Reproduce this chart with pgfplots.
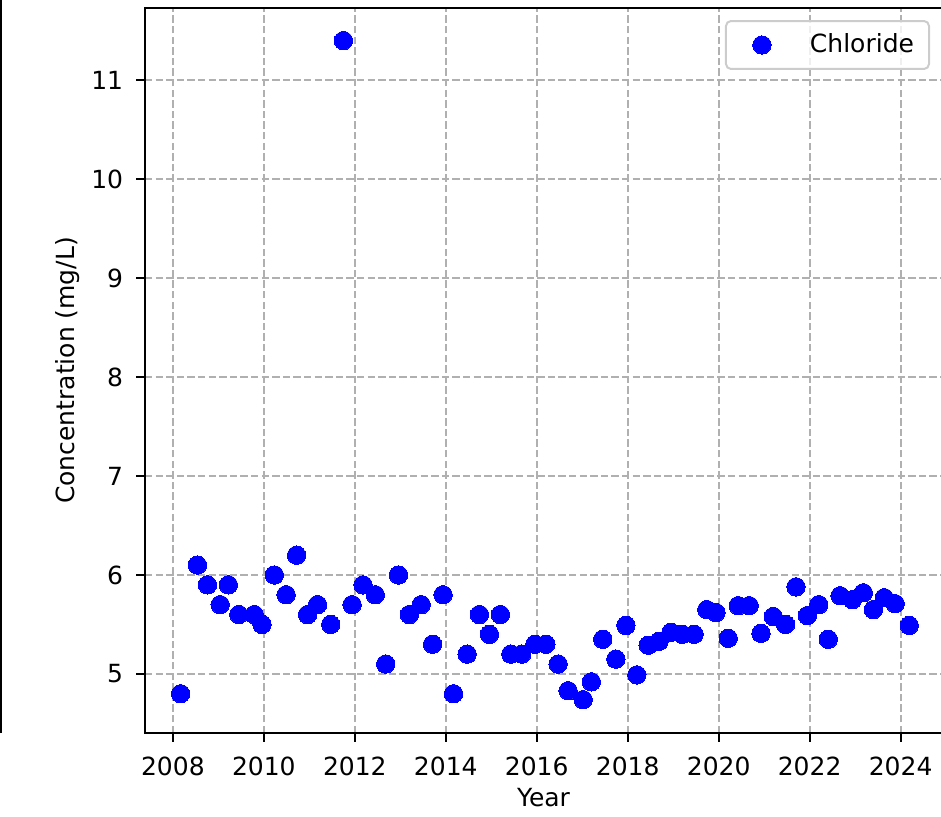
\documentclass[border=0pt]{standalone}
\usepackage{fontspec}
\setmainfont{DejaVu Sans}
\usepackage{pgfplots}
\pgfplotsset{compat=1.18}
\definecolor{gridgray}{RGB}{176,176,176}
\begin{document}
\begin{tikzpicture}
\useasboundingbox (-72.5pt,-41.5pt) rectangle (398pt,366.5pt);
% stray frame edge on the far left
\draw[line width=1pt] (-72pt,0pt) -- (-72pt,370pt);
\begin{axis}[
  at={(0,0)}, anchor=south west, scale only axis,
  width=398.5pt, height=362.5pt,
  xmin=2007.387, xmax=2024.91, ymin=4.403, ymax=11.729,
  xtick={2008,2010,...,2024}, ytick={5,6,...,11},
  /pgf/number format/assume math mode=true,
  xticklabel style={/pgf/number format/1000 sep={}, yshift=-4pt},
  yticklabel style={xshift=-3pt},
  tick label style={font=\fontsize{12.5}{15}\selectfont},
  grid=major,
  grid style={color=gridgray, line width=1pt, dash pattern=on 3.7pt off 1.6pt},
  axis line style={line width=1pt},
  tick style={black, line width=1pt},
  tick align=outside, major tick length=4.4pt,
  tick pos=left,
  xlabel={Year}, ylabel={Concentration (mg/L)},
  every axis x label/.style={at={(axis description cs:0.5,0)}, anchor=center, yshift=-32.5pt,
    font=\fontsize{12.5}{15}\selectfont},
  every axis y label/.style={at={(axis description cs:-0.0966,0.5)}, anchor=center, rotate=90,
    font=\fontsize{12.5}{15}\selectfont},
  legend style={at={(axis description cs:1,1)}, anchor=north east, xshift=-6pt, yshift=-6pt,
    draw=black!20, line width=1pt, rounded corners=2.5pt, fill=white, fill opacity=0.8, text opacity=1,
    font=\fontsize{12.5}{15}\selectfont, inner xsep=5.5pt, inner ysep=4.5pt,
    /tikz/every odd column/.append style={column sep=8.5pt}},
  legend image code/.code={\path (0pt,0pt) (25pt,0pt);
    \draw[#1, fill opacity=1, draw opacity=1] plot coordinates {(12pt,0pt)};},
  legend cell align=left,
]
\addplot[only marks, mark=*, mark size=4.6pt, color=blue, mark options={fill=blue, draw=blue, line width=0pt}]
coordinates {
(2008.17,4.80) (2008.54,6.10) (2008.76,5.90) (2009.04,5.70) (2009.22,5.90)
(2009.45,5.60) (2009.79,5.60) (2009.96,5.50) (2010.23,6.00) (2010.49,5.80)
(2010.72,6.20) (2010.96,5.60) (2011.18,5.70) (2011.47,5.50) (2011.75,11.40)
(2011.94,5.70) (2012.18,5.90) (2012.45,5.80) (2012.68,5.10) (2012.96,6.00)
(2013.20,5.60) (2013.46,5.70) (2013.71,5.30) (2013.94,5.80) (2014.17,4.80)
(2014.47,5.20) (2014.74,5.60) (2014.96,5.40) (2015.20,5.60) (2015.43,5.20)
(2015.67,5.20) (2015.96,5.30) (2016.20,5.30) (2016.47,5.10) (2016.69,4.83)
(2017.02,4.74) (2017.20,4.92) (2017.45,5.35) (2017.74,5.15) (2017.96,5.49)
(2018.20,4.99) (2018.45,5.29) (2018.69,5.33) (2018.95,5.42) (2019.20,5.40)
(2019.46,5.40) (2019.74,5.65) (2019.94,5.62) (2020.21,5.36) (2020.43,5.69)
(2020.67,5.69) (2020.93,5.41) (2021.20,5.58) (2021.47,5.50) (2021.70,5.88)
(2021.95,5.59) (2022.20,5.70) (2022.41,5.35) (2022.67,5.79) (2022.94,5.75)
(2023.18,5.82) (2023.40,5.65) (2023.64,5.77) (2023.88,5.71) (2024.19,5.49)
};
\addlegendentry{Chloride}
\end{axis}
\end{tikzpicture}
\end{document}
